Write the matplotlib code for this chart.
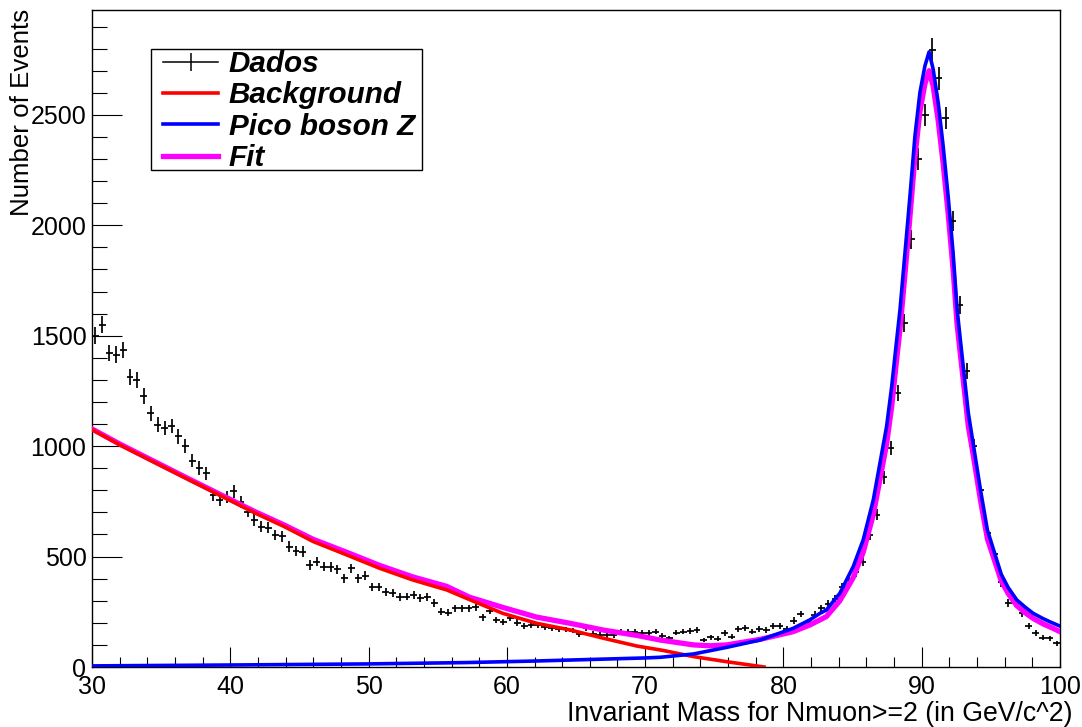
import numpy as np
import matplotlib
matplotlib.use("Agg")
import matplotlib.pyplot as plt
from matplotlib.lines import Line2D
from matplotlib.patches import Rectangle
from matplotlib.ticker import MultipleLocator
from matplotlib.font_manager import FontProperties

plt.rcParams['font.family'] = ['Liberation Sans', 'DejaVu Sans']

# histogram: 140 bins of 0.5 GeV between 30 and 100
bin_lo = 30.0
bin_w = 0.5
counts = [
    1500, 1550, 1422, 1414, 1435, 1313, 1301, 1228, 1150, 1097,
    1082, 1092, 1044, 999, 935, 901, 878, 779, 757, 769,
    795, 749, 704, 666, 636, 630, 598, 591, 545, 526,
    523, 462, 477, 455, 452, 443, 402, 447, 402, 413,
    361, 361, 341, 334, 316, 319, 326, 311, 316, 289,
    251, 246, 266, 266, 266, 270, 225, 255, 213, 205,
    221, 201, 186, 190, 190, 180, 175, 171, 170, 165,
    150, 178, 150, 145, 145, 145, 160, 160, 160, 153,
    155, 160, 141, 130, 156, 160, 163, 168, 122, 135,
    128, 153, 137, 171, 175, 160, 171, 168, 186, 186,
    171, 210, 240, 205, 236, 266, 285, 310, 360, 395,
    430, 477, 598, 690, 860, 990, 1240, 1558, 1936, 2300,
    2500, 2795, 2665, 2485, 2020, 1641, 1339, 999, 802, 606,
    510, 383, 290, 290, 243, 185, 153, 133, 130, 107,
]

# background fit (drawn until it reaches zero)
bkg_x = [30.0, 32.0, 37.0, 41.8, 43.9, 46.0, 48.4, 50.8, 53.2, 55.65,
         57.5, 59.7, 62.15, 64.56, 67.0, 69.4, 71.3, 73.5, 75.9, 78.6]
bkg_y = [1075, 1006, 848, 697, 636, 568, 508, 447, 394, 349,
         300, 243, 198, 168, 130, 95, 75, 47, 24, 0]

# Z peak component
sig_x = [30.0, 40.0, 50.0, 57.0, 62.0, 66.0, 70.0, 71.1, 73.5, 75.9,
         78.3, 80.7, 81.9, 82.64, 83.1, 84.08, 85.05, 85.77, 86.5, 86.98,
         87.46, 87.83, 88.14, 88.43, 88.79, 89.15, 89.51, 89.87, 90.23, 90.53,
         90.83, 91.19, 91.55, 91.91, 92.27, 92.56, 93.0, 93.37, 93.75, 94.25,
         94.75, 95.25, 95.75, 96.25, 96.87, 97.5, 98.06, 98.75, 99.26, 100.0]
sig_y = [5, 9, 14, 20, 27, 34, 41, 44, 59, 89,
         122, 175, 213, 243, 258, 334, 455, 576, 757, 923,
         1089, 1270, 1452, 1618, 1875, 2132, 2404, 2601, 2721, 2785,
         2706, 2556, 2359, 2132, 1875, 1618, 1361, 1150, 1000, 802,
         620, 520, 420, 360, 304, 270, 243, 220, 205, 185]

# total fit
fit_x = [30.0, 32.0, 37.0, 41.8, 43.9, 46.0, 48.4, 50.8, 53.2, 55.65,
         57.3, 59.7, 62.15, 64.56, 67.0, 69.4, 71.1, 73.5, 74.7, 75.9,
         78.3, 80.7, 81.9, 83.1, 84.08, 85.05, 85.77, 86.5, 86.98, 87.46,
         87.83, 88.14, 88.43, 88.79, 89.15, 89.51, 89.87, 90.23, 90.53, 90.83,
         91.19, 91.55, 91.91, 92.27, 92.56, 93.0, 93.37, 93.75, 94.25, 94.75,
         95.25, 95.75, 96.25, 96.87, 97.5, 98.06, 98.75, 99.26, 100.0]
fit_y = [1078, 1010, 852, 703, 643, 578, 520, 460, 408, 365,
         316, 270, 226, 198, 167, 143, 122, 100, 96, 100,
         125, 160, 190, 228, 300, 405, 520, 690, 850, 1010,
         1180, 1365, 1530, 1780, 2040, 2310, 2515, 2640, 2700, 2630,
         2475, 2280, 2055, 1800, 1550, 1300, 1090, 950, 755, 580,
         485, 390, 333, 278, 245, 220, 196, 182, 160]

counts = np.array(counts, dtype=float)
centers = bin_lo + bin_w * (np.arange(len(counts)) + 0.5)

fig = plt.figure(figsize=(10.82, 7.27), dpi=100)
ax = fig.add_axes([0.08503, 0.08253, 0.89464, 0.90371])

ax.errorbar(centers, counts, xerr=bin_w / 2, yerr=np.sqrt(counts), fmt='none',
            ecolor='black', elinewidth=1.25, capsize=0, zorder=2)
ax.plot(fit_x, fit_y, color='#ff00ff', lw=3.8, zorder=3)
ax.plot(bkg_x, bkg_y, color='#ff0000', lw=2.6, zorder=4)
ax.plot(sig_x, sig_y, color='#0000ff', lw=2.6, zorder=5)

ax.set_xlim(30, 100)
ax.set_ylim(0, 2975)

ax.xaxis.set_major_locator(MultipleLocator(10))
ax.xaxis.set_minor_locator(MultipleLocator(2))
ax.yaxis.set_major_locator(MultipleLocator(500))
ax.yaxis.set_minor_locator(MultipleLocator(100))
ax.tick_params(which='both', direction='in', top=False, right=False, color='black')
ax.tick_params(axis='y', which='major', length=21.6, width=0.8, pad=4, labelsize=18)
ax.tick_params(axis='y', which='minor', length=10.8, width=0.8)
ax.tick_params(axis='x', which='major', length=14.4, width=0.8, pad=6, labelsize=18)
ax.tick_params(axis='x', which='minor', length=7.2, width=0.8)
for sp in ax.spines.values():
    sp.set_linewidth(1.0)
    sp.set_color('black')

fig.text(0.0203, 0.988, 'Number of Events', rotation=90, ha='center', va='top', fontsize=18.6)
fig.text(0.9908, 0.018, 'Invariant Mass for Nmuon>=2 (in GeV/c^2)', ha='right', va='center',
         fontsize=19.2)

# legend box drawn on its own, entries placed inside it
ax.add_patch(Rectangle((0.061, 0.7565), 0.2799, 0.1841, transform=ax.transAxes,
                       facecolor='white', edgecolor='black', linewidth=1.0, zorder=6))
handles = [
    Line2D([], [], color='black', lw=1.1, marker='|', markersize=13, markeredgewidth=1.1),
    Line2D([], [], color='#ff0000', lw=2.6),
    Line2D([], [], color='#0000ff', lw=2.6),
    Line2D([], [], color='#ff00ff', lw=3.8),
]
labels = ['Dados', 'Background', 'Pico boson Z', 'Fit']
leg_font = FontProperties(family='Liberation Sans', weight='bold', style='italic', size=21.3)
leg = ax.legend(handles, labels, loc='upper left', bbox_to_anchor=(0.0735, 0.9391),
                prop=leg_font, frameon=False, borderpad=0.0, labelspacing=0.115,
                handlelength=1.86, handletextpad=0.35, borderaxespad=0.0)
leg.set_zorder(7)

fig.savefig('out.png', dpi=100)
